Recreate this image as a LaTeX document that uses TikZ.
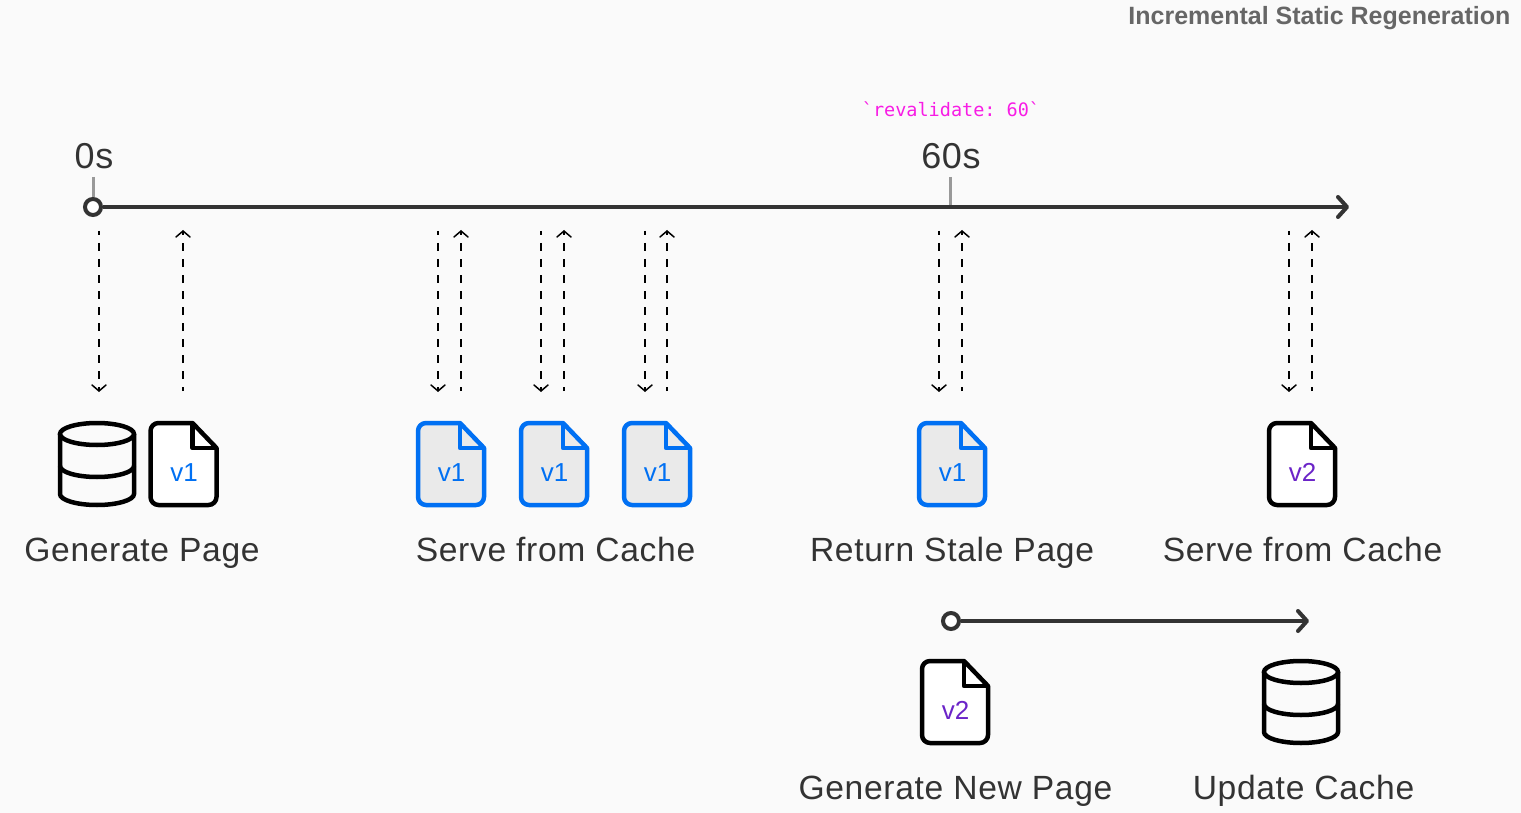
\documentclass[tikz,border=0pt]{standalone}
\usepackage{fontspec}
\setmainfont{Liberation Sans}
\setmonofont{DejaVu Sans Mono}
\usetikzlibrary{arrows.meta}
\definecolor{pagebg}{HTML}{FAFAFA}
\definecolor{inkdark}{HTML}{333333}
\definecolor{tickgray}{HTML}{999999}
\definecolor{titlegray}{HTML}{666666}
\definecolor{cacheblue}{HTML}{0070F3}
\definecolor{cachefill}{HTML}{EAEAEA}
\definecolor{newpurple}{HTML}{6B24C8}
\definecolor{hintpink}{HTML}{F81CE5}
\tikzset{
  axisline/.style={inkdark, line width=4pt, -{Straight Barb[length=9pt,width=20pt,line cap=round,line join=round]}},
  startdot/.style={circle, draw=inkdark, fill=white, line width=4pt, minimum size=16pt, inner sep=0pt},
  tickline/.style={tickgray, line width=3pt},
  reqline/.style={black, line width=2pt, dash pattern=on 8pt off 8pt, dash phase=4pt, -{Straight Barb[length=6pt,width=14pt,sep=11pt,line width=1.5pt,line cap=round]}},
  steplabel/.style={inkdark, anchor=base, font=\fontsize{33.6}{33.6}\selectfont\addfontfeatures{LetterSpace=2}},
  timelabel/.style={inkdark, anchor=base, font=\fontsize{36}{36}\selectfont\addfontfeatures{LetterSpace=2}},
  pics/filepage/.style n args={4}{code={
    \draw[#1, fill=#2, line width=4.5pt, line join=round]
      (42,0) -- (66,25) -- (66,74) arc[start angle=0,end angle=-90,radius=8pt]
      -- (8,82) arc[start angle=-90,end angle=-180,radius=8pt]
      -- (0,8) arc[start angle=180,end angle=90,radius=8pt] -- cycle;
    \draw[#1, line width=4.5pt, line join=round] (42,0) -- (42,25) -- (66,25);
    \node[#4, anchor=base, font=\fontsize{26}{26}\selectfont] (-tag) at (33.5,58) {#3};
  }},
  pics/dbstack/.style={code={
    \draw[black, line width=4.5pt] (0,11) ellipse [x radius=37pt, y radius=11pt];
    \draw[black, line width=4.5pt] (-37,11) -- (-37,71) arc[start angle=180,end angle=360,x radius=37pt,y radius=11pt] -- (37,11);
    \draw[black, line width=4.5pt] (-37,43) arc[start angle=180,end angle=360,x radius=37pt,y radius=11pt];
  }},
}
\begin{document}
\begin{tikzpicture}[x=1pt,y=-1pt]
\useasboundingbox (0,0) rectangle (1521,813);
\fill[pagebg] (0,0) rectangle (1521,813);
\node[titlegray, anchor=base east, font=\bfseries\fontsize{25}{25}\selectfont] (title) at (1514,25) {Incremental Static Regeneration};
\node[hintpink, anchor=base, font=\ttfamily\fontsize{18.5}{18.5}\selectfont] (hint) at (951,117) {`revalidate: 60`};
% main time line
\node[timelabel] (zero) at (94,169) {0s};
\node[timelabel] (sixty) at (951,169) {60s};
\coordinate (zerotick) at (93,177);
\coordinate (sixtytick) at (950,177);
\coordinate (sixtybase) at (950,207);
\coordinate (axisend) at (1349,207);
\node[startdot] (start) at (93,207) {};
\draw[tickline] (zerotick) -- (start);
\draw[tickline] (sixtytick) -- (sixtybase);
\draw[axisline] (start) -- (axisend);
% requests
\coordinate (d1a) at (99,231);    \coordinate (d1b) at (99,403);
\coordinate (u1a) at (183,391);   \coordinate (u1b) at (183,219);
\coordinate (d2a) at (438,231);   \coordinate (d2b) at (438,403);
\coordinate (u2a) at (461,391);   \coordinate (u2b) at (461,219);
\coordinate (d3a) at (541,231);   \coordinate (d3b) at (541,403);
\coordinate (u3a) at (564,391);   \coordinate (u3b) at (564,219);
\coordinate (d4a) at (645,231);   \coordinate (d4b) at (645,403);
\coordinate (u4a) at (667,391);   \coordinate (u4b) at (667,219);
\coordinate (d5a) at (939,231);   \coordinate (d5b) at (939,403);
\coordinate (u5a) at (962,391);   \coordinate (u5b) at (962,219);
\coordinate (d6a) at (1289,231);  \coordinate (d6b) at (1289,403);
\coordinate (u6a) at (1312,391);  \coordinate (u6b) at (1312,219);
\draw[reqline] (d1a) -- (d1b);
\draw[reqline] (u1a) -- (u1b);
\draw[reqline] (d2a) -- (d2b);
\draw[reqline] (u2a) -- (u2b);
\draw[reqline] (d3a) -- (d3b);
\draw[reqline] (u3a) -- (u3b);
\draw[reqline] (d4a) -- (d4b);
\draw[reqline] (u4a) -- (u4b);
\draw[reqline] (d5a) -- (d5b);
\draw[reqline] (u5a) -- (u5b);
\draw[reqline] (d6a) -- (d6b);
\draw[reqline] (u6a) -- (u6b);
% icons
\pic (db1) at (97,423) {dbstack};
\pic (page1) at (150.5,423) {filepage={black}{white}{v1}{cacheblue}};
\pic (page2) at (418,423) {filepage={cacheblue}{cachefill}{v1}{cacheblue}};
\pic (page3) at (521,423) {filepage={cacheblue}{cachefill}{v1}{cacheblue}};
\pic (page4) at (624,423) {filepage={cacheblue}{cachefill}{v1}{cacheblue}};
\pic (page5) at (919,423) {filepage={cacheblue}{cachefill}{v1}{cacheblue}};
\pic (page6) at (1269,423) {filepage={black}{white}{v2}{newpurple}};
% labels
\node[steplabel] (generate) at (142,561) {Generate Page};
\node[steplabel] (serve) at (555.5,561) {Serve from Cache};
\node[steplabel] (stale) at (952,561) {Return Stale Page};
\node[steplabel] (servenew) at (1302.5,561) {Serve from Cache};
% background regeneration
\node[startdot] (regen) at (951,621) {};
\coordinate (regenend) at (1309,621);
\draw[axisline] (regen) -- (regenend);
\pic (page7) at (922,661) {filepage={black}{white}{v2}{newpurple}};
\pic (db2) at (1301,661) {dbstack};
\node[steplabel] (generatenew) at (955.5,799) {Generate New Page};
\node[steplabel] (update) at (1303.5,799) {Update Cache};
\end{tikzpicture}
\end{document}
